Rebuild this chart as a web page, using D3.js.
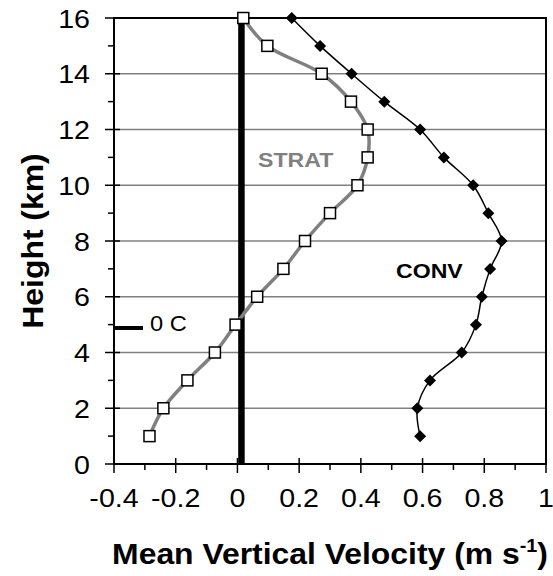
<!DOCTYPE html>
<html>
<head>
<meta charset="utf-8">
<script src="https://cdn.jsdelivr.net/npm/d3@7"></script>
<style>
  html, body { margin: 0; padding: 0; background: #fff; }
  svg { display: block; font-family: "Liberation Sans", Arial, sans-serif; }
</style>
</head>
<body>
<svg id="chart" width="553" height="576"></svg>
<script>
// ---- data ----
const heights = [1, 2, 3, 4, 5, 6, 7, 8, 9, 10, 11, 12, 13, 14, 15, 16];
const stratValues = [-0.285, -0.24, -0.162, -0.073, -0.006, 0.064, 0.149, 0.219, 0.30, 0.389, 0.422, 0.422, 0.368, 0.273, 0.097, 0.019];
const convValues = [0.592, 0.583, 0.624, 0.727, 0.773, 0.792, 0.819, 0.856, 0.813, 0.764, 0.669, 0.592, 0.476, 0.370, 0.268, 0.176];
const xTicks = [-0.4, -0.2, 0, 0.2, 0.4, 0.6, 0.8, 1];
const xMinorTicks = [-0.3, -0.1, 0.1, 0.3, 0.5, 0.7, 0.9];
const yTicks = [0, 2, 4, 6, 8, 10, 12, 14, 16];
const yMinorTicks = [1, 3, 5, 7, 9, 11, 13, 15];
const zeroLine = [{ x: 0.013, y: 0 }, { x: 0.013, y: 16 }];
const freezingLevel = 4.88;
const freezingSpan = [-0.4, -0.306];
const seriesLabels = { strat: "STRAT", conv: "CONV", freezing: "0 C" };

// ---- layout ----
const svg = d3.select("#chart");
const pL = 114, pR = 546, pT = 18, pB = 464;
const SX = 1.1; // horizontal stretch of the reference's lettering
const x = d3.scaleLinear().domain([-0.4, 1]).range([pL, pR]);
const y = d3.scaleLinear().domain([0, 16]).range([pB, pT]);

function stretched(sel, tx, ty, extra) {
  return sel.attr("transform", d => {
    const X = typeof tx === "function" ? tx(d) : tx;
    const Y = typeof ty === "function" ? ty(d) : ty;
    return `translate(${X},${Y})${extra || ""} scale(${SX},1)`;
  });
}

// gridlines
svg.append("g").selectAll("line").data(yTicks.filter(d => d > 0 && d < 16)).join("line")
  .attr("x1", pL).attr("x2", pR)
  .attr("y1", d => y(d)).attr("y2", d => y(d))
  .attr("stroke", "#808080").attr("stroke-width", 1.3);

// plot border
svg.append("rect").attr("x", pL).attr("y", pT)
  .attr("width", pR - pL).attr("height", pB - pT)
  .attr("fill", "none").attr("stroke", "#000").attr("stroke-width", 2);

// x axis ticks
const gx = svg.append("g");
gx.selectAll("line.maj").data(xTicks).join("line").attr("class", "maj")
  .attr("x1", d => x(d)).attr("x2", d => x(d))
  .attr("y1", pB - 6).attr("y2", pB + 9)
  .attr("stroke", "#000").attr("stroke-width", 1.5);
gx.selectAll("line.min").data(xMinorTicks).join("line").attr("class", "min")
  .attr("x1", d => x(d)).attr("x2", d => x(d))
  .attr("y1", pB).attr("y2", pB + 6)
  .attr("stroke", "#000").attr("stroke-width", 1.5);
stretched(gx.selectAll("text").data(xTicks).join("text"), d => x(d), 507)
  .attr("text-anchor", "middle").attr("font-size", 26)
  .text(d => String(d));

// y axis ticks
const gy = svg.append("g");
gy.selectAll("line.maj").data(yTicks).join("line").attr("class", "maj")
  .attr("x1", pL - 9).attr("x2", pL + 6)
  .attr("y1", d => y(d)).attr("y2", d => y(d))
  .attr("stroke", "#000").attr("stroke-width", 1.5);
gy.selectAll("line.min").data(yMinorTicks).join("line").attr("class", "min")
  .attr("x1", pL - 6).attr("x2", pL)
  .attr("y1", d => y(d)).attr("y2", d => y(d))
  .attr("stroke", "#000").attr("stroke-width", 1.5);
stretched(gy.selectAll("text").data(yTicks).join("text"), 90, d => y(d) + 9.5)
  .attr("text-anchor", "end").attr("font-size", 26)
  .text(d => d);

// thick zero line
svg.append("line")
  .attr("x1", x(zeroLine[0].x)).attr("x2", x(zeroLine[1].x))
  .attr("y1", y(zeroLine[0].y)).attr("y2", y(zeroLine[1].y))
  .attr("stroke", "#000").attr("stroke-width", 6.5);

// freezing level marker
svg.append("line")
  .attr("x1", x(freezingSpan[0])).attr("x2", x(freezingSpan[1]))
  .attr("y1", y(freezingLevel)).attr("y2", y(freezingLevel))
  .attr("stroke", "#000").attr("stroke-width", 4);
stretched(svg.append("text"), 150, 331)
  .attr("font-size", 21.5).text(seriesLabels.freezing);

const curve = d3.curveCatmullRom.alpha(0.5);
const strat = heights.map((h, i) => ({ x: stratValues[i], y: h }));
const conv = heights.map((h, i) => ({ x: convValues[i], y: h }));
const line = d3.line().x(d => x(d.x)).y(d => y(d.y)).curve(curve);

// STRAT
svg.append("path").datum(strat).attr("d", line)
  .attr("fill", "none").attr("stroke", "#808080").attr("stroke-width", 3.5);
svg.append("g").selectAll("rect").data(strat).join("rect")
  .attr("x", d => x(d.x) - 5.5).attr("y", d => y(d.y) - 5.5)
  .attr("width", 11).attr("height", 11)
  .attr("fill", "#fff").attr("stroke", "#000").attr("stroke-width", 1.5);

// CONV
svg.append("path").datum(conv).attr("d", line)
  .attr("fill", "none").attr("stroke", "#000").attr("stroke-width", 1.5);
svg.append("g").selectAll("path").data(conv).join("path")
  .attr("transform", d => `translate(${x(d.x)},${y(d.y)})`)
  .attr("d", "M0,-6L6,0L0,6L-6,0Z")
  .attr("fill", "#000");

// series labels
stretched(svg.append("text"), 258, 167)
  .attr("font-size", 21).attr("font-weight", "bold").attr("fill", "#808080")
  .text(seriesLabels.strat);
stretched(svg.append("text"), 396, 278)
  .attr("font-size", 21).attr("font-weight", "bold").attr("fill", "#000")
  .text(seriesLabels.conv);

// axis titles
const xt = stretched(svg.append("text"), (pL + pR) / 2, 564)
  .attr("text-anchor", "middle").attr("font-size", 29).attr("font-weight", "bold");
xt.append("tspan").text("Mean Vertical Velocity (m s");
xt.append("tspan").attr("font-size", 18).attr("dy", -12).text("-1");
xt.append("tspan").attr("dy", 12).text(")");

stretched(svg.append("text"), 43, (pT + pB) / 2, " rotate(-90)")
  .attr("text-anchor", "middle").attr("font-size", 29).attr("font-weight", "bold")
  .text("Height (km)");
</script>
</body>
</html>
